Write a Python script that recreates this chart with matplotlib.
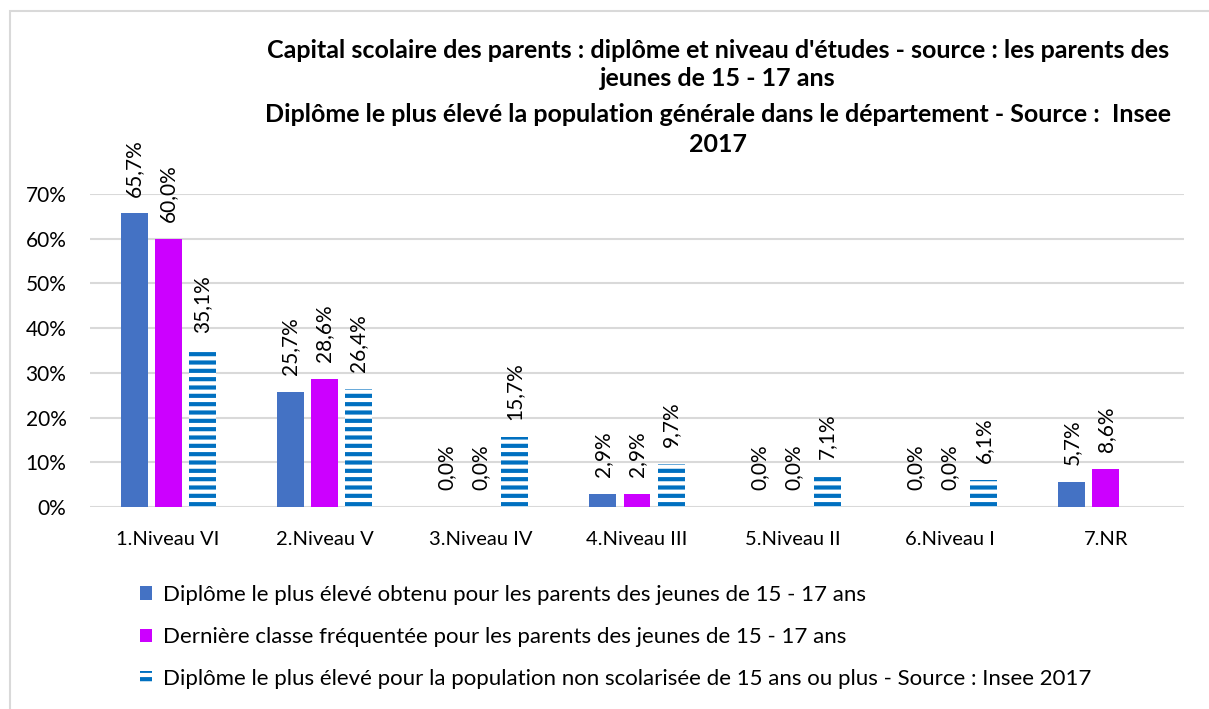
import numpy as np
import matplotlib.pyplot as plt
from matplotlib.patches import Rectangle

plt.rcParams['font.family'] = ['Lato', 'DejaVu Sans']
plt.rcParams['hatch.linewidth'] = 3.0

categories = ['1.Niveau VI', '2.Niveau V', '3.Niveau IV', '4.Niveau III',
              '5.Niveau II', '6.Niveau I', '7.NR']
diplome_parents = [65.7, 25.7, 0.0, 2.9, 0.0, 0.0, 5.7]
derniere_classe = [60.0, 28.6, 0.0, 2.9, 0.0, 0.0, 8.6]
insee_2017 = [35.1, 26.4, 15.7, 9.7, 7.1, 6.1, None]

series_names = [
    'Diplôme le plus élevé obtenu pour les parents des jeunes de 15 - 17 ans',
    'Dernière classe fréquentée pour les parents des jeunes de 15 - 17 ans',
    'Diplôme le plus élevé pour la population non scolarisée de 15 ans ou plus - Source : Insee 2017',
]
title_lines = [
    "Capital scolaire des parents : diplôme et niveau d'études - source : les parents des",
    "jeunes de 15 - 17 ans",
    "Diplôme le plus élevé la population générale dans le département - Source :  Insee",
    "2017",
]

fig = plt.figure(figsize=(12.09, 7.09), dpi=100)
ax = fig.add_axes([90 / 1209, 1 - 507 / 709, (1184 - 90) / 1209, (507 - 194) / 709])

x = np.arange(len(categories))
w = 0.172
step = 0.218
all_series = [diplome_parents, derniere_classe, insee_2017]
styles = [
    dict(color='#4472C4'),
    dict(color='#CC00FF'),
    dict(facecolor='white', edgecolor='#0070C0', hatch='--', linewidth=0),
]
handles = []
for k, (vals, st, name) in enumerate(zip(all_series, styles, series_names)):
    xs = [xi + (k - 1) * step for xi, v in zip(x, vals) if v is not None]
    vs = [v / 100 for v in vals if v is not None]
    bars = ax.bar(xs, vs, width=w, label=name, zorder=2, **st)
    handles.append(bars)
    for xi, v in zip(xs, vs):
        ax.annotate(f'{v * 100:.1f}%'.replace('.', ','), xy=(xi, v), xytext=(0, 12),
                    textcoords='offset points', rotation=90, ha='center', va='bottom',
                    fontsize=15, color='#000000', annotation_clip=False)

ax.set_xlim(-0.5, len(categories) - 0.5)
ax.set_ylim(0, 0.7)
ax.set_yticks(np.arange(0, 0.71, 0.1))
ax.set_yticklabels([f'{int(round(t * 100))}%' for t in np.arange(0, 0.71, 0.1)])
ax.set_xticks(x)
ax.set_xticklabels(categories)
ax.tick_params(axis='both', length=0, labelsize=15, colors='#000000')
ax.tick_params(axis='x', labelsize=14.5, pad=17)
ax.tick_params(axis='y', pad=17)
ax.yaxis.grid(True, color='#D9D9D9', linewidth=1.5, zorder=0)
ax.set_axisbelow(True)
for s in ax.spines.values():
    s.set_visible(False)

title_y = [50, 78, 114, 145]
for line, ty in zip(title_lines, title_y):
    fig.text(718 / 1209, 1 - ty / 709, line, ha='center', va='center',
             fontsize=18, fontweight='bold', color='#000000')

fig.legend(handles=handles, labels=series_names, loc='upper left',
           bbox_to_anchor=(131 / 1209, 1 - 576 / 709), frameon=False, fontsize=16,
           handlelength=0.55, handleheight=0.55, handletextpad=0.5, labelspacing=1.0,
           borderaxespad=0)

# light border of the chart area
fig.add_artist(Rectangle((10 / 1209, -0.05), 1.2, 1 - 11 / 709 + 0.05,
                         transform=fig.transFigure, fill=False,
                         edgecolor='#D9D9D9', linewidth=1.5))

fig.savefig('out.png', dpi=100)
